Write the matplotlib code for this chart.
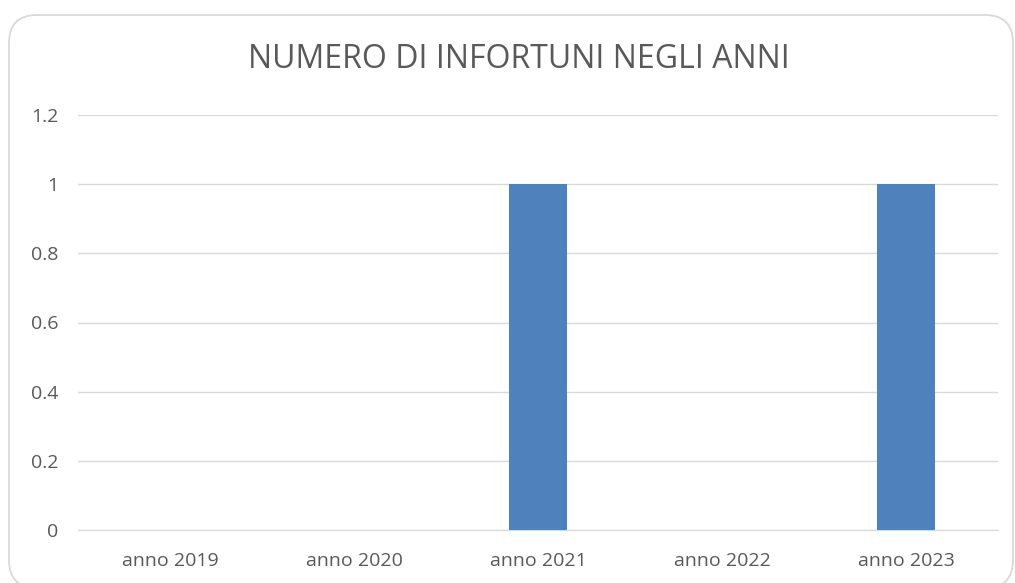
import matplotlib
matplotlib.use("Agg")
import matplotlib.pyplot as plt
from matplotlib.patches import FancyBboxPatch

categorie = ["anno 2019", "anno 2020", "anno 2021", "anno 2022", "anno 2023"]
infortuni = [0, 0, 1, 0, 1]
yticks = [0, 0.2, 0.4, 0.6, 0.8, 1, 1.2]
ytick_labels = ["0", "0.2", "0.4", "0.6", "0.8", "1", "1.2"]

plt.rcParams["font.family"] = ["Open Sans", "DejaVu Sans"]

fig = plt.figure(figsize=(10.15, 5.83), dpi=100)
# bordo arrotondato del grafico (coordinate in pollici)
fig.patches.append(FancyBboxPatch((0.09, -0.05), 10.04, 5.73,
                                  boxstyle="round,pad=0,rounding_size=0.28",
                                  transform=fig.dpi_scale_trans, fill=False,
                                  edgecolor="#D9D9D9", linewidth=1.3))

ax = fig.add_axes([78 / 1015, 1 - 530 / 583, 920 / 1015, 415 / 583])
x = range(len(categorie))
ax.bar(x, infortuni, width=0.31, color="#4F81BD", zorder=3)

ax.set_xlim(-0.5, len(categorie) - 0.5)
ax.set_ylim(0, 1.2)
ax.set_yticks(yticks)
ax.set_yticklabels(ytick_labels)
ax.set_xticks(list(x))
ax.set_xticklabels(categorie)
ax.yaxis.grid(True, color="#D9D9D9", linewidth=1, zorder=0)
for s in ["top", "right", "left"]:
    ax.spines[s].set_visible(False)
ax.spines["bottom"].set_color("#D9D9D9")
ax.tick_params(axis="both", length=0, labelsize=14, colors="#595959")
ax.tick_params(axis="x", pad=16)
ax.tick_params(axis="y", pad=14)

fig.text(518.5 / 1015, 1 - 59 / 583, "NUMERO DI INFORTUNI NEGLI ANNI", ha="center", va="center",
         fontsize=23, color="#595959")

fig.savefig("out.png", dpi=100)
